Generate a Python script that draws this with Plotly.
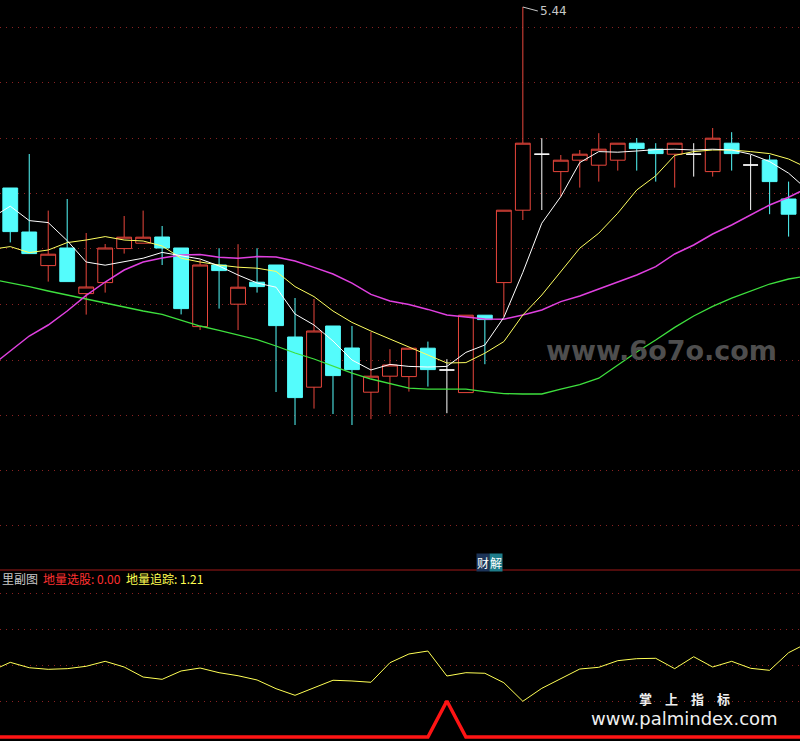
import plotly.graph_objects as go

W, H = 800, 741

# ---------------- data ----------------
candle_idx = list(range(42))
open_ = [4.535, 4.315, 4.147, 4.235, 4.007, 4.062, 4.232, 4.259, 4.290, 4.235,
         3.842, 4.150, 3.954, 4.064, 4.150, 3.790, 3.539, 3.845, 3.735, 3.514,
         3.594, 3.592, 3.734, 3.625, 3.512, 3.899, 4.062, 4.424, 4.704, 4.617,
         4.674, 4.649, 4.674, 4.759, 4.729, 4.704, 4.704, 4.617, 4.759, 4.650,
         4.675, 4.480]
high = [4.535, 4.705, 4.422, 4.480, 4.310, 4.255, 4.395, 4.422, 4.345, 4.235,
        4.175, 4.234, 4.254, 4.234, 4.150, 3.985, 3.980, 3.845, 3.845, 3.815,
        3.729, 3.734, 3.767, 3.679, 3.899, 3.899, 4.424, 5.440, 4.784, 4.700,
        4.725, 4.809, 4.759, 4.785, 4.759, 4.759, 4.759, 4.835, 4.814, 4.700,
        4.700, 4.567]
low = [4.263, 4.205, 4.067, 4.067, 3.902, 4.012, 4.207, 4.259, 4.150, 3.903,
       3.825, 3.932, 3.825, 4.012, 3.515, 3.350, 3.432, 3.405, 3.350, 3.379,
       3.405, 3.517, 3.542, 3.409, 3.512, 3.654, 3.892, 4.375, 4.425, 4.492,
       4.537, 4.567, 4.622, 4.622, 4.567, 4.537, 4.592, 4.592, 4.622, 4.425,
       4.404, 4.292]
close = [4.317, 4.207, 4.204, 4.067, 4.040, 4.235, 4.289, 4.289, 4.235, 3.932,
         4.150, 4.122, 4.039, 4.042, 3.847, 3.487, 3.820, 3.597, 3.627, 3.594,
         3.650, 3.734, 3.627, 3.625, 3.899, 3.877, 4.424, 4.759, 4.704, 4.674,
         4.704, 4.729, 4.759, 4.732, 4.707, 4.759, 4.704, 4.784, 4.707, 4.650,
         4.567, 4.404]

line_idx = list(range(-1, 43))
ma_white = [4.385, 4.444, 4.372, 4.362, 4.272, 4.165, 4.149, 4.165, 4.184, 4.213,
            4.195, 4.180, 4.145, 4.100, 4.060, 4.039, 3.905, 3.850, 3.770, 3.675,
            3.625, 3.653, 3.643, 3.640, 3.643, 3.713, 3.750, 3.888, 4.113, 4.359,
            4.492, 4.662, 4.717, 4.714, 4.720, 4.727, 4.729, 4.725, 4.729, 4.725,
            4.704, 4.667, 4.609, 4.525]
ma_yellow = [4.228, 4.242, 4.212, 4.225, 4.262, 4.275, 4.292, 4.275, 4.270, 4.245,
             4.184, 4.165, 4.150, 4.139, 4.134, 4.118, 4.042, 3.992, 3.920, 3.863,
             3.820, 3.780, 3.740, 3.700, 3.660, 3.662, 3.709, 3.767, 3.900, 4.000,
             4.117, 4.234, 4.309, 4.409, 4.525, 4.596, 4.698, 4.717, 4.725, 4.725,
             4.717, 4.707, 4.680, 4.635]
ma_magenta = [3.645, 3.720, 3.795, 3.850, 3.920, 3.998, 4.065, 4.125, 4.165, 4.185,
              4.200, 4.203, 4.189, 4.184, 4.192, 4.190, 4.170, 4.138, 4.105, 4.059,
              4.003, 3.970, 3.953, 3.928, 3.900, 3.890, 3.880, 3.879, 3.900, 3.925,
              3.967, 3.995, 4.030, 4.068, 4.100, 4.142, 4.205, 4.250, 4.305, 4.350,
              4.400, 4.450, 4.489, 4.535]
ma_green = [4.079, 4.062, 4.042, 4.020, 4.000, 3.978, 3.959, 3.940, 3.920, 3.903,
            3.875, 3.845, 3.823, 3.800, 3.777, 3.745, 3.710, 3.680, 3.645, 3.609,
            3.580, 3.558, 3.534, 3.529, 3.529, 3.529, 3.517, 3.507, 3.505, 3.505,
            3.529, 3.552, 3.584, 3.650, 3.715, 3.775, 3.838, 3.895, 3.943, 3.984,
            4.020, 4.055, 4.080, 4.095]

# sub chart: 地量追踪 (yellow) and 地量选股 (red signal)
track = [0.917, 1.037, 0.962, 0.940, 0.949, 0.982, 1.051, 0.972, 0.833, 0.801,
         0.917, 0.958, 0.893, 0.851, 0.792, 0.671, 0.579, 0.681, 0.788, 0.778,
         0.760, 1.032, 1.153, 1.194, 0.847, 0.893, 0.885, 0.754, 0.496, 0.676,
         0.815, 0.944, 0.968, 1.060, 1.088, 1.093, 0.949, 1.115, 0.972, 1.051,
         0.954, 0.926, 1.171, 1.306]
signal = [0] * 24 + [1] + [0] * 19

main_grid = [5.339, 5.064, 4.784, 4.509, 4.234, 3.954, 3.674, 3.399, 3.124, 2.849]
sub_grid = [0.5, 1.0, 1.5, 2.0]

high_label = "5.44"

# ---------------- styles ----------------
RED = "#e8463c"
CYAN = "#54fcfc"
GRID = "#8a2222"
split = 570 / H  # main / sub boundary (from top)

fig = go.Figure()


def add_candles(sel, color, fill):
    fig.add_trace(go.Candlestick(
        x=[candle_idx[i] for i in sel],
        open=[open_[i] for i in sel],
        high=[high[i] for i in sel],
        low=[low[i] for i in sel],
        close=[close[i] for i in sel],
        increasing=dict(line=dict(color=color, width=1), fillcolor=fill),
        decreasing=dict(line=dict(color=color, width=1), fillcolor=fill),
        whiskerwidth=0, hoverinfo="skip", showlegend=False,
        xaxis="x", yaxis="y"))


up = [i for i in candle_idx if close[i] > open_[i]]
down = [i for i in candle_idx if close[i] < open_[i]]
doji = [i for i in candle_idx if close[i] == open_[i]]
add_candles(up, RED, "#000000")
add_candles(down, CYAN, CYAN)
add_candles(doji, "#ffffff", "#ffffff")

for vals, col, w in [(ma_green, "#3ee03e", 1.3), (ma_magenta, "#e040e0", 1.5),
                     (ma_yellow, "#ffff60", 1.0), (ma_white, "#ffffff", 1.0)]:
    fig.add_trace(go.Scatter(x=line_idx, y=vals, mode="lines",
                             line=dict(color=col, width=w),
                             hoverinfo="skip", showlegend=False,
                             xaxis="x", yaxis="y"))

fig.add_trace(go.Scatter(x=line_idx, y=track, mode="lines",
                         line=dict(color="#ffff55", width=1),
                         hoverinfo="skip", showlegend=False,
                         xaxis="x", yaxis="y2"))
fig.add_trace(go.Scatter(x=line_idx, y=signal, mode="lines",
                         line=dict(color="#ff1414", width=3.5),
                         hoverinfo="skip", showlegend=False,
                         xaxis="x", yaxis="y3"))

grid_common = dict(showgrid=True, gridcolor=GRID, griddash="1px,5px", gridwidth=1,
                   showticklabels=False, zeroline=False, ticks="", showline=False,
                   fixedrange=True)

fig.update_layout(
    width=W, height=H, autosize=False,
    margin=dict(l=0, r=0, t=0, b=0),
    paper_bgcolor="#000000", plot_bgcolor="#000000",
    showlegend=False, boxgap=0.22, boxgroupgap=0,
    xaxis=dict(range=[-0.54, 41.6], showgrid=False, zeroline=False,
               showticklabels=False, ticks="", showline=False,
               rangeslider=dict(visible=False), fixedrange=True, anchor="y"),
    yaxis=dict(domain=[1 - split, 1], range=[2.625, 5.475],
               tickvals=main_grid, **grid_common),
    yaxis2=dict(domain=[0, 1 - split], range=[-0.0556, 2.3194],
                tickvals=sub_grid, **grid_common),
    yaxis3=dict(overlaying="y2", range=[-0.111, 4.639], visible=False,
                fixedrange=True),
)

# separator between panels
fig.add_shape(type="line", xref="paper", yref="paper", x0=0, x1=1,
              y0=1 - split, y1=1 - split, line=dict(color="#a01818", width=1))

# high label
fig.add_annotation(x=27, y=5.44, xref="x", yref="y", text=high_label,
                   showarrow=True, arrowhead=0, arrowwidth=1, arrowcolor="#c8c8c8",
                   ax=15, ay=4, xanchor="left", yanchor="middle",
                   font=dict(family="DejaVu Sans", size=12, color="#c8c8c8"))


def py(ypx):
    return 1 - ypx / H


cjk = "Noto Sans CJK SC"
for txt, x0, col in [("里副图", 0, "#c8c8c8"),
                     ("地量选股: 0.00", 41, "#ff3030"),
                     ("地量追踪: 1.21", 124, "#ffff50")]:
    fig.add_annotation(x=x0 / W, y=py(578), xref="paper", yref="paper", text=txt,
                       showarrow=False, xanchor="left", yanchor="middle",
                       font=dict(family=cjk, size=12, color=col))

# 财解 button
fig.add_annotation(x=482.5 / W, y=py(562.5), xref="paper", yref="paper", text="财",
                   showarrow=False, bgcolor="#1c3458", borderpad=0,
                   xanchor="center", yanchor="middle",
                   font=dict(family=cjk, size=12, color="#ffffff"))
fig.add_annotation(x=495.5 / W, y=py(562.5), xref="paper", yref="paper", text="解",
                   showarrow=False, bgcolor="#1e7c8a", borderpad=0,
                   xanchor="center", yanchor="middle",
                   font=dict(family=cjk, size=12, color="#ffffff"))

# watermarks
fig.add_annotation(x=661.5 / W, y=py(350), xref="paper", yref="paper",
                   text="<b>www.6o7o.com</b>", showarrow=False,
                   xanchor="center", yanchor="middle",
                   font=dict(family="DejaVu Sans", size=27, color="#4e4e4e"))
fig.add_annotation(x=684.5 / W, y=py(698), xref="paper", yref="paper",
                   text="<b>掌　上　指　标</b>", showarrow=False,
                   xanchor="center", yanchor="middle",
                   font=dict(family=cjk, size=13, color="#f0f0f0"))
fig.add_annotation(x=684 / W, y=py(718), xref="paper", yref="paper",
                   text="www.palmindex.com", showarrow=False,
                   xanchor="center", yanchor="middle",
                   font=dict(family="DejaVu Sans", size=18, color="#f0f0f0"))

fig.write_html("out.html", config={"displayModeBar": False},
               post_script="document.body.style.margin='0';document.body.style.overflow='hidden';")
